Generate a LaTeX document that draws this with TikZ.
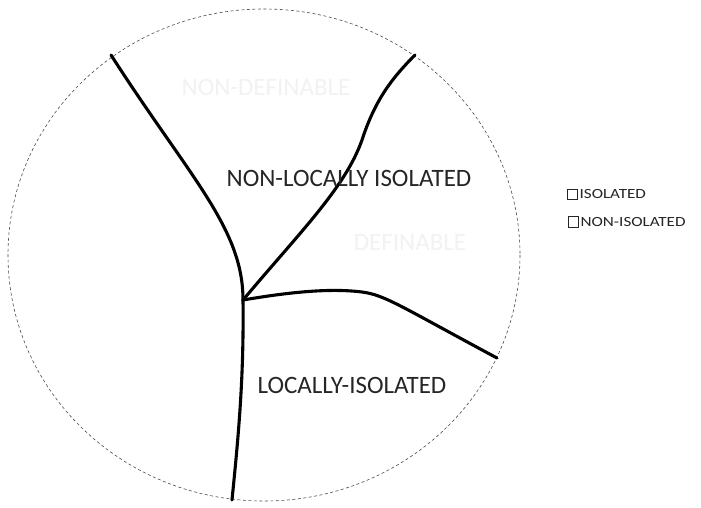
\documentclass[tikz,border=0pt]{standalone}
\usepackage{fontspec}
\setmainfont{Carlito}
\begin{document}
\begin{tikzpicture}[x=1pt,y=-1pt,
  boundary/.style={draw=black!70,line width=0.6pt,dash pattern=on 3pt off 2.5pt},
  branch/.style={draw=black,line width=3.1pt,line cap=round,line join=round},
  bigtext/.style={font=\fontsize{25}{28}\selectfont,text=black!85,inner sep=0pt},
  fainttext/.style={font=\fontsize{25}{28}\selectfont,text=black!5,inner sep=0pt},
  legtext/.style={font=\fontsize{14}{16}\selectfont,text=black!85,inner sep=0pt,anchor=west},
  legbox/.style={draw=black!85,line width=0.8pt,minimum width=10pt,minimum height=10pt,inner sep=0pt}]
\useasboundingbox (0,0) rectangle (701,507);
\fill[white] (0,0) rectangle (701,507);
% outline
\draw[boundary] (264,255) ellipse [x radius=256, y radius=246];
% points
\coordinate (J) at (243,300);
\coordinate (TL) at (111,55);
\coordinate (TR) at (415,55);
\coordinate (R) at (497,358);
\coordinate (B) at (232,500);
% branches
\draw[branch] (TL) .. controls (190,178) and (243,228) .. (J);
\draw[branch] (J) .. controls (244,380) and (238,440) .. (B);
\draw[branch] (J) .. controls (300,232) and (345,188) .. (362,140)
  .. controls (375,100) and (392,78) .. (TR);
\draw[branch] (J) .. controls (290,292) and (330,288) .. (362,292)
  .. controls (385,295) and (400,306) .. (R);
% labels
\node[fainttext] (nd) at (266,87) {NON-DEFINABLE};
\node[fainttext] (df) at (410,242) {DEFINABLE};
\node[bigtext] (nli) at (349,178) {NON-LOCALLY ISOLATED};
\node[bigtext] (li) at (352,385) {LOCALLY-ISOLATED};
% legend
\node[legbox] (b1) at (572,194) {};
\node[legtext] (t1) at ([xshift=2pt]b1.east) {\scalebox{1.22}[1]{ISOLATED}};
\node[legbox,minimum height=11pt] (b2) at (573,222) {};
\node[legtext] (t2) at ([xshift=2pt]b2.east) {\scalebox{1.22}[1]{NON-ISOLATED}};
\end{tikzpicture}
\end{document}
